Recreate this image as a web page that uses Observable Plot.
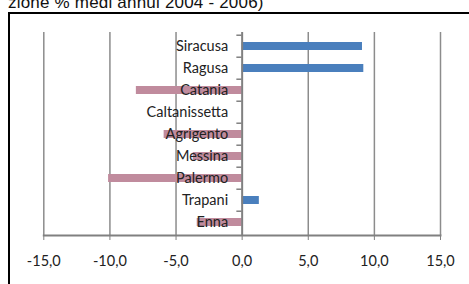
<!DOCTYPE html>
<html>
<head>
<meta charset="utf-8">
<script src="https://cdn.jsdelivr.net/npm/d3@7"></script>
<script src="https://cdn.jsdelivr.net/npm/@observablehq/plot@0.6"></script>
<style>
  html, body { margin: 0; padding: 0; background: #fff; }
  #wrap { position: relative; width: 469px; height: 284px; overflow: hidden; }
  #title { position: absolute; left: 8px; top: -7px; font: 17px "Liberation Sans", Arial, sans-serif; letter-spacing: 0.2px; color: #111; white-space: nowrap; }
  #box { position: absolute; left: 8px; top: 12px; width: 500px; height: 400px; border-left: 2px solid #000; border-top: 2px solid #000; }
  #chart { position: absolute; left: 0; top: 0; }
</style>
</head>
<body>
<div id="wrap">
  <div id="title">zione % medi annui 2004 - 2006)</div>
  <div id="box"></div>
  <div id="chart"></div>
</div>
<script>
const provinces = ["Siracusa", "Ragusa", "Catania", "Caltanissetta", "Agrigento", "Messina", "Palermo", "Trapani", "Enna"];
const values = [9.1, 9.2, -8.0, 0.0, -5.9, -3.7, -10.1, 1.3, -3.4];
const xTicks = [-15, -10, -5, 0, 5, 10, 15];

const data = provinces.map((p, i) => ({province: p, value: values[i]}));
const blue = "#4a7fbd";
const pink = "#c08b9d";
const fmt = d => d.toFixed(1).replace(".", ",");

const chart = Plot.plot({
  width: 469,
  height: 284,
  marginLeft: 43.3,
  marginRight: 29,
  marginTop: 32,
  marginBottom: 49,
  style: {fontFamily: "Lato, sans-serif", fontSize: "14.5px", color: "#222", background: "transparent"},
  x: {domain: [-15, 15], ticks: xTicks, tickFormat: fmt, tickSize: 5, tickPadding: 15, label: null},
  y: {domain: provinces, paddingInner: 0.65, paddingOuter: 0.325, axis: null},
  marks: [
    Plot.ruleX(xTicks.filter(d => d !== 0), {stroke: "#8c8c8c", strokeWidth: 1.5}),
    Plot.barX(data, {x: "value", y: "province", fill: d => d.value >= 0 ? blue : pink}),
    Plot.ruleX([0], {stroke: "#808080", strokeWidth: 2}),
    Plot.frame({anchor: "bottom", stroke: "#808080", strokeWidth: 2}),
    Plot.ruleY(provinces, {y: d => d, x1: -0.4, x2: 0, dy: -11.28, stroke: "#808080", strokeWidth: 1.5}),
    Plot.axisX({ticks: xTicks, tickFormat: fmt, tickSize: 5, tickPadding: 15, stroke: "#808080", fill: "#222", fontSize: 14.5}),
    Plot.text(data, {x: () => 0, y: "province", text: "province", dx: -14, textAnchor: "end", fill: "#222", fontSize: 14.5})
  ]
});
document.getElementById("chart").appendChild(chart);
</script>
</body>
</html>
